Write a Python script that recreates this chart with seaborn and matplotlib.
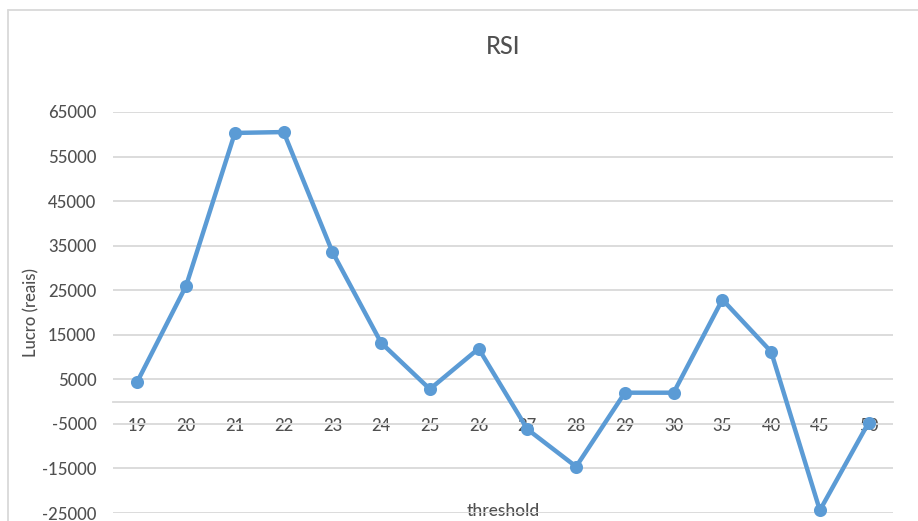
import matplotlib
matplotlib.use("Agg")
import matplotlib.pyplot as plt
import seaborn as sns
import pandas as pd

# chart data
thresholds = ["19", "20", "21", "22", "23", "24", "25", "26",
              "27", "28", "29", "30", "35", "40", "45", "50"]
lucro = [4500, 26000, 60300, 60500, 33600, 13200, 2800, 11900,
         -6200, -14600, 2000, 2000, 22900, 11200, -24400, -4700]
y_ticks = [-25000, -15000, -5000, 5000, 15000, 25000, 35000, 45000, 55000, 65000]

df = pd.DataFrame({"threshold": thresholds, "lucro": lucro})

sns.set_style("white")
plt.rcParams["font.family"] = ["Lato", "DejaVu Sans"]

text_color = "#505050"
grid_color = "#D9D9D9"
line_color = "#5B9BD5"

fig = plt.figure(figsize=(9.18, 5.21), dpi=100)
ax = fig.add_axes([113 / 918, 1 - 513 / 521, (893 - 113) / 918, (513 - 112) / 521])

sns.pointplot(data=df, x="threshold", y="lucro", order=thresholds,
              color=line_color, markers="o", errorbar=None,
              linewidth=3.2, markersize=7, ax=ax)
for art in ax.lines + ax.collections:
    art.set_clip_on(False)

ax.set_ylim(-25000, 65000)
ax.set_xlim(-0.5, len(thresholds) - 0.5)
ax.set_yticks(y_ticks)
ax.set_yticklabels([str(v) for v in y_ticks])
ax.yaxis.grid(True, color=grid_color, linewidth=1.3)
ax.set_axisbelow(True)

for side in ["left", "right", "top"]:
    ax.spines[side].set_visible(False)
ax.spines["bottom"].set_position(("data", 0))
ax.spines["bottom"].set_color(grid_color)
ax.spines["bottom"].set_linewidth(1.3)
ax.spines["bottom"].set_zorder(0)

ax.tick_params(axis="x", length=0, pad=12, labelsize=12, labelcolor=text_color)
ax.tick_params(axis="y", length=0, pad=12, labelsize=12, labelcolor=text_color)
for lbl in ax.get_xticklabels() + ax.get_yticklabels():
    lbl.set_fontweight("medium")

ax.set_xlabel("threshold", fontsize=12.5, color=text_color, fontweight="medium")
ax.xaxis.set_label_coords(0.5, (513 - 503) / 401)
ax.set_ylabel("Lucro (reais)", fontsize=12, color=text_color, fontweight="medium")
ax.yaxis.set_label_coords(-(113 - 39) / 780, 0.5)
fig.text(503 / 918, 1 - 46 / 521, "RSI", ha="center", va="center",
         fontsize=17, color=text_color, fontweight="medium")

# thin chart-area border (top and left edges visible)
fig.add_artist(plt.Line2D([8 / 918, 8 / 918], [0, 1 - 10 / 521],
                          transform=fig.transFigure, color=grid_color, linewidth=1.3))
fig.add_artist(plt.Line2D([8 / 918, 1], [1 - 10 / 521, 1 - 10 / 521],
                          transform=fig.transFigure, color=grid_color, linewidth=1.3))

fig.savefig("out.png", dpi=100)
